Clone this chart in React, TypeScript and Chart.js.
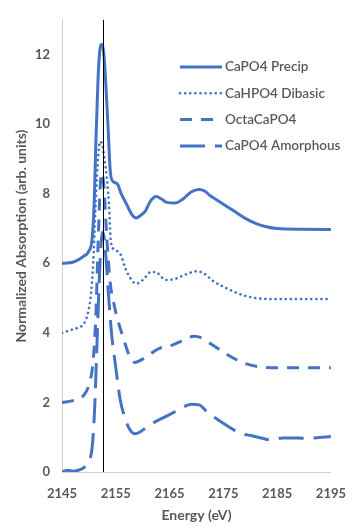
import React, { useEffect, useRef } from "react";
import { Chart, registerables } from "chart.js";

Chart.register(...registerables);

// ---- data ----
const seriesNames = ["CaPO4 Precip", "CaHPO4 Dibasic", "OctaCaPO4", "CaPO4 Amorphous"];
const xTitle = "Energy (eV)";
const yTitle = "Normalized Absorption (arb. units)";

const precipE = [2145, 2146, 2147, 2148, 2149, 2150, 2150.6, 2151, 2151.3, 2151.7, 2152.1, 2152.4, 2152.8, 2153.2, 2153.6, 2154, 2154.5, 2155.3, 2156, 2157, 2158, 2158.8, 2159.8, 2160.5, 2161.5, 2162.5, 2163.5, 2164.5, 2166, 2167.5, 2169, 2170.5, 2171.5, 2172.5, 2174, 2175.5, 2177, 2179, 2181, 2183, 2185, 2190, 2195];
const precipV = [6.0, 6.01, 6.03, 6.1, 6.2, 6.35, 6.7, 7.8, 9.5, 11.3, 12.2, 12.3, 12.0, 11.0, 9.8, 8.6, 8.35, 8.28, 8.0, 7.7, 7.4, 7.3, 7.4, 7.5, 7.8, 7.92, 7.85, 7.75, 7.73, 7.85, 8.05, 8.12, 8.08, 7.95, 7.8, 7.65, 7.5, 7.3, 7.15, 7.05, 7.0, 6.98, 6.97];

const dibasicE = [2145, 2146, 2147, 2148, 2149, 2149.7, 2150.3, 2150.8, 2151.2, 2151.6, 2152.1, 2152.5, 2152.9, 2153.3, 2153.7, 2154.1, 2154.7, 2155.9, 2156.8, 2157.6, 2158.7, 2159.5, 2160.5, 2161.5, 2162.5, 2163.5, 2164.5, 2166, 2168, 2170, 2171.5, 2173, 2175, 2177, 2179, 2181, 2185, 2195];
const dibasicV = [4.0, 4.05, 4.1, 4.15, 4.25, 4.5, 5.0, 6.0, 7.5, 8.8, 9.5, 9.4, 9.0, 8.5, 7.8, 6.6, 6.4, 6.25, 5.85, 5.6, 5.42, 5.45, 5.6, 5.75, 5.75, 5.6, 5.52, 5.55, 5.68, 5.77, 5.7, 5.5, 5.33, 5.18, 5.07, 5.0, 4.97, 4.97];

const octaE = [2145, 2147, 2149, 2150, 2150.8, 2151.3, 2151.7, 2152.1, 2152.4, 2152.8, 2153.3, 2154, 2154.7, 2155.5, 2156.5, 2157.5, 2158.5, 2159.5, 2161, 2163, 2165, 2167, 2169.5, 2171, 2173, 2176, 2179, 2182, 2185, 2195];
const octaV = [2.0, 2.05, 2.2, 2.5, 3.2, 4.5, 6.5, 8.2, 8.6, 8.2, 6.8, 5.4, 4.8, 4.3, 3.8, 3.35, 3.15, 3.2, 3.35, 3.55, 3.62, 3.75, 3.9, 3.85, 3.65, 3.35, 3.12, 3.02, 3.0, 3.0];

const amorphE = [2145, 2146, 2147, 2148, 2149, 2150, 2150.6, 2151, 2151.4, 2151.8, 2152.2, 2152.6, 2153, 2153.6, 2154.2, 2155, 2155.8, 2156.6, 2157.5, 2158.5, 2159.5, 2161, 2163, 2165, 2167, 2169, 2170.5, 2172, 2174, 2176, 2178, 2180, 2182, 2184, 2186, 2188, 2190, 2192, 2195];
const amorphV = [0.0, 0.05, 0.02, 0.05, 0.12, 0.3, 0.7, 1.6, 3.2, 5.0, 6.4, 6.9, 6.5, 5.2, 4.0, 3.0, 2.1, 1.6, 1.25, 1.1, 1.15, 1.32, 1.5, 1.65, 1.82, 1.95, 1.93, 1.72, 1.5, 1.3, 1.12, 1.05, 0.98, 0.92, 0.98, 0.98, 0.97, 0.98, 1.02];

const markerEnergy = 2152.7;
const xMin = 2145;
const xMax = 2195;
const yMin = 0;
const yMax = 13;

const BLUE = "#4472C4";
const GRAY = "#595959";
const FONT = "Lato, 'Open Sans', sans-serif";

const toPts = (xs: number[], ys: number[]) => xs.map((x, i) => ({ x, y: ys[i] }));

const dashes: number[][] = [[], [0.1, 5], [12, 9], [25, 10]];
const widths = [3, 2.6, 3, 3];

const markerPlugin = {
  id: "marker",
  afterDatasetsDraw(chart: any) {
    const { ctx, chartArea, scales } = chart;
    const x = Math.round(scales.x.getPixelForValue(markerEnergy)) + 0.5;
    ctx.save();
    ctx.strokeStyle = "#000";
    ctx.lineWidth = 1;
    ctx.beginPath();
    ctx.moveTo(x, chartArea.top);
    ctx.lineTo(x, chartArea.bottom);
    ctx.stroke();
    ctx.restore();
  },
};

const titlesPlugin = {
  id: "axisTitles",
  afterDraw(chart: any) {
    const { ctx, chartArea } = chart;
    ctx.save();
    ctx.fillStyle = GRAY;
    ctx.font = `bold 14px ${FONT}`;
    ctx.textAlign = "center";
    ctx.textBaseline = "middle";
    ctx.fillText(xTitle, (chartArea.left + chartArea.right) / 2, 515);
    ctx.translate(21, 236);
    ctx.rotate(-Math.PI / 2);
    ctx.fillText(yTitle, 0, 0);
    ctx.restore();
  },
};

const legendPlugin = {
  id: "innerLegend",
  afterDraw(chart: any) {
    const { ctx } = chart;
    const x0 = 180;
    const x1 = 222;
    const y0 = 67;
    const step = 26.3;
    ctx.save();
    chart.data.datasets.forEach((ds: any, i: number) => {
      const y = y0 + i * step;
      ctx.strokeStyle = ds.borderColor;
      ctx.lineWidth = ds.borderWidth;
      ctx.lineCap = ds.borderCapStyle || "butt";
      ctx.setLineDash(ds.borderDash || []);
      ctx.beginPath();
      ctx.moveTo(x0, y);
      ctx.lineTo(x1, y);
      ctx.stroke();
      ctx.setLineDash([]);
      ctx.fillStyle = GRAY;
      ctx.font = `600 13.5px ${FONT}`;
      ctx.textBaseline = "middle";
      ctx.textAlign = "left";
      ctx.fillText(ds.label, x1 + 3, y);
    });
    ctx.restore();
  },
};

export default function App() {
  const ref = useRef<HTMLCanvasElement | null>(null);

  useEffect(() => {
    if (!ref.current) return;
    const pairs = [
      [precipE, precipV],
      [dibasicE, dibasicV],
      [octaE, octaV],
      [amorphE, amorphV],
    ];
    const chart = new Chart(ref.current, {
      type: "line",
      data: {
        datasets: pairs.map((p, i) => ({
          label: seriesNames[i],
          data: toPts(p[0], p[1]),
          borderColor: BLUE,
          backgroundColor: BLUE,
          borderWidth: widths[i],
          borderDash: dashes[i],
          borderCapStyle: i === 1 ? "round" : "butt",
          pointRadius: 0,
          cubicInterpolationMode: "monotone",
          fill: false,
        })),
      },
      options: {
        animation: false,
        responsive: false,
        maintainAspectRatio: false,
        layout: { padding: { left: 0, right: 18, top: 17, bottom: 0 } },
        plugins: {
          legend: { display: false },
          tooltip: { enabled: false },
        },
        scales: {
          x: {
            type: "linear",
            min: xMin,
            max: xMax,
            grid: { display: false, drawTicks: false },
            border: { display: true, color: "#D0D0D0", width: 1 },
            ticks: {
              stepSize: 10,
              padding: 14,
              color: GRAY,
              font: { family: FONT, size: 13, weight: "bold" },
              maxRotation: 0,
              callback: (v: any) => String(v),
            },
            title: { display: false },
            afterFit(scale: any) {
              scale.height = 53;
            },
          },
          y: {
            type: "linear",
            min: yMin,
            max: yMax,
            grid: { display: false, drawTicks: false },
            border: { display: true, color: "#D0D0D0", width: 1 },
            ticks: {
              stepSize: 2,
              padding: 12,
              color: GRAY,
              font: { family: FONT, size: 13, weight: "bold" },
            },
            afterBuildTicks(scale: any) {
              scale.ticks = scale.ticks.filter((t: any) => t.value % 2 === 0);
            },
            title: { display: false },
            afterFit(scale: any) {
              scale.width = 62;
            },
          },
        },
      },
      plugins: [markerPlugin, legendPlugin, titlesPlugin],
    } as any);
    return () => chart.destroy();
  }, []);

  return (
    <div style={{ position: "absolute", left: 0, top: 0, width: 360, height: 525, background: "#fff" }}>
      <canvas ref={ref} width={360} height={525} style={{ display: "block", width: 360, height: 525 }} />
    </div>
  );
}
